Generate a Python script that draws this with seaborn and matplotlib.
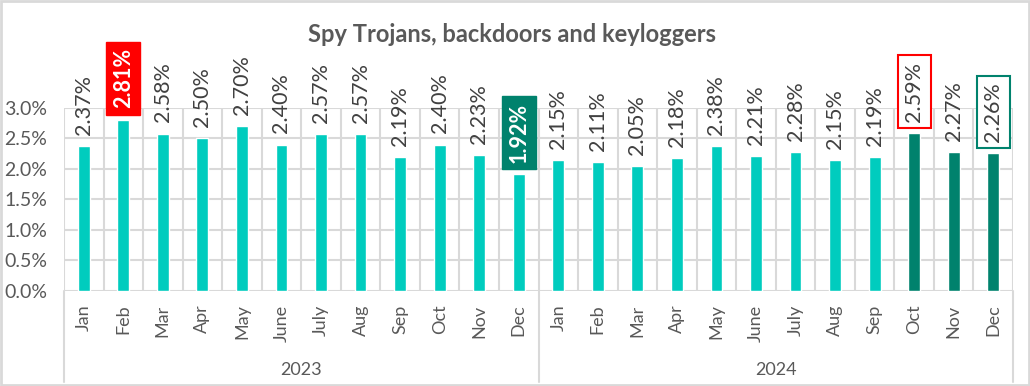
import numpy as np
import pandas as pd
import seaborn as sns
import matplotlib.pyplot as plt
from matplotlib.ticker import FuncFormatter, FixedLocator
from matplotlib.patches import Rectangle
import matplotlib.transforms as mtransforms

months = ["Jan", "Feb", "Mar", "Apr", "May", "June", "July", "Aug", "Sep", "Oct", "Nov", "Dec"]
years = ["2023", "2024"]
share_2023 = [2.37, 2.81, 2.58, 2.50, 2.70, 2.40, 2.57, 2.57, 2.19, 2.40, 2.23, 1.92]
share_2024 = [2.15, 2.11, 2.05, 2.18, 2.38, 2.21, 2.28, 2.15, 2.19, 2.59, 2.27, 2.26]

TEAL = "#00CCBE"
DARK = "#00826D"
RED = "#FF0000"
GRID = "#D9D9D9"
TXT = "#595959"

df = pd.DataFrame({
    "year": np.repeat(years, 12),
    "month": months * 2,
    "share": share_2023 + share_2024,
})
df["key"] = df["year"] + " " + df["month"]
colors = [TEAL] * 21 + [DARK] * 3

sns.set_theme(style="white")
plt.rcParams["font.family"] = ["Lato", "DejaVu Sans"]

fig = plt.figure(figsize=(10.3, 3.86), dpi=100)
ax = fig.add_axes([64 / 1030, 1 - 290.7 / 386, (1013 - 64) / 1030, 182.7 / 386])

sns.barplot(data=df, x="key", y="share", hue="key", palette=colors,
            legend=False, width=0.3, saturation=1, ax=ax, zorder=3)

ax.set_xlim(-0.5, 23.5)
ax.set_ylim(0, 3.0)
ax.set_yticks(np.arange(0, 3.01, 0.5))
ax.yaxis.set_major_formatter(FuncFormatter(lambda v, p: f"{v:.1f}%"))
ax.tick_params(axis="y", length=0, pad=12, labelsize=14, labelcolor=TXT)
ax.set_xticks(range(24))
ax.set_xticklabels(df["month"], rotation=90, fontsize=13, color=TXT)
ax.tick_params(axis="x", length=0, pad=10)
ax.xaxis.set_minor_locator(FixedLocator(np.arange(-0.5, 24, 1)))
ax.grid(axis="y", which="major", color=GRID, lw=1.5, zorder=0)
ax.grid(axis="x", which="minor", color=GRID, lw=1.5, zorder=0)
ax.grid(axis="x", which="major", visible=False)
ax.tick_params(axis="x", which="minor", length=0)
ax.set_xlabel("")
ax.set_ylabel("")
for s in ax.spines.values():
    s.set_visible(False)

# year separators and labels under the month labels
trans = mtransforms.blended_transform_factory(ax.transData, ax.transAxes)
for xb in [-0.5, 11.5, 23.5]:
    ax.plot([xb, xb], [0, -0.5], transform=trans, color=GRID, lw=1.5, clip_on=False)
for i, yr in enumerate(years):
    ax.text(5.5 + 12 * i, -0.435, yr, transform=trans, ha="center", va="center",
            fontsize=13, color=TXT)

# value labels
for i, row in df.iterrows():
    label = f"{row['share']:.2f}%"
    kw = dict(xy=(i, row["share"]), xytext=(0, 8), textcoords="offset points",
              rotation=90, ha="center", va="bottom", fontsize=15.5, color="#404040",
              zorder=5, annotation_clip=False)
    if i == 1:
        kw.update(color="white", fontweight="bold",
                  bbox=dict(boxstyle="square,pad=0.3", fc=RED, ec=RED))
    elif i == 11:
        kw.update(color="white", fontweight="bold",
                  bbox=dict(boxstyle="square,pad=0.3", fc=DARK, ec=DARK))
    elif i == 21:
        kw.update(bbox=dict(boxstyle="square,pad=0.3", fc="white", ec=RED, lw=1.5))
    elif i == 23:
        kw.update(bbox=dict(boxstyle="square,pad=0.3", fc="white", ec=DARK, lw=1.5))
    ax.annotate(label, **kw)

fig.text(0.497, 1 - 34 / 386, "Spy Trojans, backdoors and keyloggers", ha="center",
         va="center", fontsize=17, fontweight="bold", color=TXT)

fig.patches.append(Rectangle((0.001, 0.002), 0.998, 0.996, transform=fig.transFigure,
                             fill=False, ec=GRID, lw=2))

fig.savefig("out.png", dpi=100)
